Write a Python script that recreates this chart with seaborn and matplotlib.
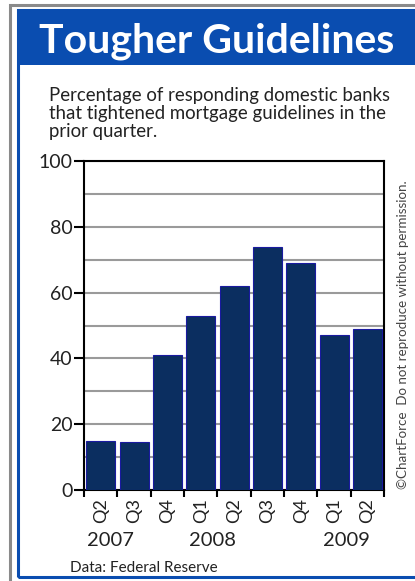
import matplotlib
matplotlib.use("Agg")
import matplotlib.pyplot as plt
import matplotlib.patches as mpatches
import seaborn as sns
import pandas as pd

quarters = ["Q2", "Q3", "Q4", "Q1", "Q2", "Q3", "Q4", "Q1", "Q2"]
years = ["2007", "2007", "2007", "2008", "2008", "2008", "2008", "2009", "2009"]
values = [15, 14.5, 41, 53, 62, 74, 69, 47, 49]
year_labels = ["2007", "2008", "2009"]
year_label_pos = [0.28, 3.34, 7.36]
title = "Tougher Guidelines"
subtitle = ["Percentage of responding domestic banks",
            "that tightened mortgage guidelines in the",
            "prior quarter."]
source = "Data: Federal Reserve"
copyright_txt = "\u00a9ChartForce  Do not reproduce without permission."

sns.set_theme(style="white")
plt.rcParams['font.family'] = ['Lato', 'DejaVu Sans']

W, H = 415, 581
fig = plt.figure(figsize=(W / 100, H / 100), dpi=100)
fig.patch.set_facecolor("white")

def fx(px):
    return px / W

def fy(py):
    return 1 - py / H

# outer frame: gray line and blue border
fig.patches.append(mpatches.Rectangle((fx(10), fy(583)), fx(420) - fx(10), fy(5) - fy(583),
                                      transform=fig.transFigure, fill=False,
                                      edgecolor="#8a8a8a", linewidth=2.2, zorder=0))
fig.patches.append(mpatches.Rectangle((fx(18), fy(577)), fx(420) - fx(18), fy(10) - fy(577),
                                      transform=fig.transFigure, fill=False,
                                      edgecolor="#0a4db0", linewidth=2.2, zorder=0))
# header band
fig.patches.append(mpatches.Rectangle((fx(17), fy(65)), fx(420) - fx(17), fy(9) - fy(65),
                                      transform=fig.transFigure, facecolor="#0a4db0",
                                      edgecolor="none", zorder=0))

fig.text(fx(39), fy(53), title, color="white", fontsize=29.5, fontweight="bold",
         ha="left", va="baseline")
for i, line in enumerate(subtitle):
    fig.text(fx(49), fy(101 + 18 * i), line, color="#222222", fontsize=13.4,
             ha="left", va="baseline")

ax = fig.add_axes([fx(84), fy(490), fx(384) - fx(84), fy(161) - fy(490)])
df = pd.DataFrame({"pos": list(range(len(values))), "value": values})
sns.barplot(data=df, x="pos", y="value", ax=ax, color="#0b2e60",
            edgecolor="#1a1aa0", linewidth=0.8, width=0.87, saturation=1, zorder=3)

ax.set_xlim(-0.5, len(values) - 0.5)
ax.set_ylim(0, 100)
ax.set_yticks([0, 20, 40, 60, 80, 100])
ax.set_yticks([10, 30, 50, 70, 90], minor=True)
ax.yaxis.grid(True, which="both", color="#9a9a9a", linewidth=1.5, zorder=0)
ax.set_axisbelow(True)
ax.tick_params(axis="y", which="major", direction="out", length=7, width=1.5,
               color="black", labelsize=14, pad=1, left=True, labelcolor="#222222")
ax.tick_params(axis="y", which="minor", length=0)

ax.set_xticks([i - 0.5 for i in range(len(values) + 1)])
ax.set_xticklabels([""] * (len(values) + 1))
ax.set_xticks(list(range(len(values))), minor=True)
ax.set_xticklabels(quarters, minor=True, rotation=90, fontsize=13, color="#222222")
ax.tick_params(axis="x", which="major", direction="out", length=5, width=1.5,
               color="black", bottom=True)
ax.tick_params(axis="x", which="minor", length=0, pad=6)
ax.set_xlabel("")
ax.set_ylabel("")

for s in ax.spines.values():
    s.set_visible(True)
    s.set_color("black")
    s.set_linewidth(1.5)

for lab, p in zip(year_labels, year_label_pos):
    ax.text(p, -0.153, lab, transform=ax.get_xaxis_transform(), ha="center",
            va="center", fontsize=14.5, color="#222222")

fig.text(fx(70), fy(572), source, fontsize=11, color="#222222", ha="left", va="baseline")
fig.text(fx(403), fy(335), copyright_txt, rotation=90, fontsize=9.6, color="#444444",
         ha="center", va="center")

fig.savefig("out.png", dpi=100)
